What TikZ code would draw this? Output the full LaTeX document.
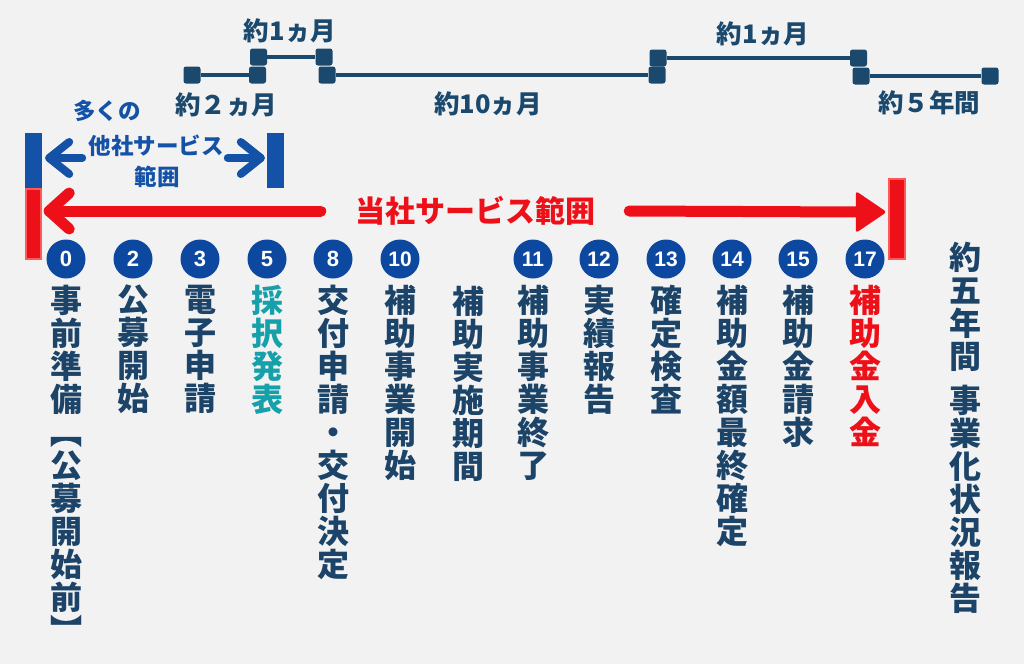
\documentclass[tikz,border=0pt]{standalone}
\usepackage{fontspec}
\newfontfamily\jp{Noto Sans CJK JP}
\newfontfamily\numfont{Liberation Sans}
\usetikzlibrary{calc}
\definecolor{bg}{RGB}{242,242,242}
\definecolor{navy}{RGB}{28,67,104}
\definecolor{tline}{RGB}{27,73,110}
\definecolor{cblue}{RGB}{13,72,160}
\definecolor{sblue}{RGB}{20,82,168}
\definecolor{tealc}{RGB}{22,160,170}
\definecolor{sred}{RGB}{238,16,24}
\definecolor{lred}{RGB}{255,90,90}
\begin{document}
\begin{tikzpicture}[x=1pt,y=-1pt,
  sq/.style={rectangle, rounded corners=2.5pt, fill=tline, minimum width=17pt, minimum height=17pt, inner sep=0},
  tl/.style={draw=tline, line width=4pt},
  dur/.style={font=\jp\bfseries\fontsize{25.5}{27}\selectfont, text=tline, inner sep=0},
  num/.style={circle, fill=cblue, minimum size=39pt, inner sep=0, text=white, font=\numfont\bfseries\fontsize{22}{22}\selectfont},
  numw/.style={num, font=\numfont\bfseries\fontsize{21}{21}\selectfont},
  vcol/.style={anchor=north, inner sep=0, align=center, text=navy, font=\jp\bfseries\fontsize{32}{33}\selectfont},
  btxt/.style={inner sep=0, text=sblue, font=\jp\bfseries\fontsize{22.5}{22.5}\selectfont},
  bbar/.style={rectangle, fill=sblue, minimum width=17pt, minimum height=55pt, inner sep=0},
  rbar/.style={rectangle, fill=sred, draw=lred, line width=2.5pt, minimum width=15pt, inner sep=0},
  barrow/.style={draw=sblue, line width=8pt, line cap=round, line join=round},
  rline/.style={draw=sred, line width=11pt, line cap=round, line join=round}
]
\fill[bg] (0,0) rectangle (1024,664);
\useasboundingbox (0,0) rectangle (1024,664);

% top timeline
\node[sq] (s1) at (192,75) {};
\node[sq] (s2u) at (258.5,57) {};
\node[sq] (s2d) at (257.5,75) {};
\node[sq] (s3u) at (324,57) {};
\node[sq] (s3d) at (327,75) {};
\node[sq] (s4u) at (658,58) {};
\node[sq] (s4d) at (657,75) {};
\node[sq] (s5u) at (858.5,58) {};
\node[sq] (s5d) at (861,76) {};
\node[sq] (s6) at (990,76) {};
\draw[tl] (s1) -- (s2d);
\draw[tl] (s2u) -- (s3u);
\draw[tl] (s3d) -- (s4d);
\draw[tl] (s4u) -- (s5u);
\draw[tl] (s5d) -- (s6);

\node[dur] (d1) at (290,31) {約1ヵ月};
\node[dur] (d2) at (226,105) {約２ヵ月};
\node[dur] (d3) at (488,104) {約10ヵ月};
\node[dur] (d4) at (763,34) {約1ヵ月};
\node[dur] (d5) at (929,103) {約５年間};

% other services range
\node[bbar] (bbL) at (33.5,160.5) {};
\node[bbar] (bbR) at (275.5,160.5) {};
\node[btxt] (bt1) at (107,111) {多くの};
\node[btxt] (bt2) at (156,146) {他社サービス};
\node[btxt] (bt3) at (157,177) {範囲};
\coordinate (btL) at ($(bbL.east)+(7,-2.5)$);
\coordinate (btR) at ($(bbR.west)+(-6,-2.5)$);
\draw[barrow] (btL) -- ++(33,0);
\draw[barrow] (btL) ++(20,-16) -- (btL) -- ++(20,16);
\draw[barrow] (btR) -- ++(-33,0);
\draw[barrow] (btR) ++(-20,-16) -- (btR) -- ++(-20,16);

% our service range
\node[rbar, minimum height=70pt] (rbL) at (33.5,224) {};
\node[rbar, minimum width=16pt, minimum height=80pt] (rbR) at (897,219) {};
\node[inner xsep=34pt, inner ysep=0, text=sred, font=\jp\bfseries\fontsize{30}{30}\selectfont] (svc) at (475,211) {当社サービス範囲};
\coordinate (rtipL) at ($(rbL.east)+(7,-13)$);
\coordinate (rtipR) at ($(rbR.west)+(-1,-7)$);
\draw[rline] (svc.west) -- (rtipL);
\draw[rline] (rtipL) ++(20,-18) -- (rtipL) -- ++(20,18);
\draw[rline] (svc.east) -- ($(rtipR)+(-28,0)$);
\fill[sred, rounded corners=3pt] (rtipR) -- ++(-31,-21) -- ++(0,42) -- cycle;

% numbered circles
\node[num] (c0) at (66,259) {0};
\node[num] (c2) at (133,259) {2};
\node[num] (c3) at (200,259) {3};
\node[num] (c5) at (267,259) {5};
\node[num] (c8) at (333,259) {8};
\node[numw] (c10) at (400,259) {10};
\node[numw] (c11) at (533,259) {11};
\node[numw] (c12) at (599,259) {12};
\node[numw] (c13) at (666,259) {13};
\node[numw] (c14) at (732,259) {14};
\node[numw] (c15) at (798,259) {15};
\node[numw] (c17) at (865,259) {17};

% vertical texts
\node[vcol] (t0) at (66,285) {事\\前\\準\\備\\︻\\公\\募\\開\\始\\前\\︼};
\node[vcol] (t2) at (133,285) {公\\募\\開\\始};
\node[vcol] (t3) at (200,285) {電\\子\\申\\請};
\node[vcol, text=tealc] (t5) at (267,285) {採\\択\\発\\表};
\node[vcol] (t8) at (333,285) {交\\付\\申\\請\\・\\交\\付\\決\\定};
\node[vcol] (t10) at (400,285) {補\\助\\事\\業\\開\\始};
\node[vcol] (tp) at (468,286) {補\\助\\実\\施\\期\\間};
\node[vcol] (t11) at (533,285) {補\\助\\事\\業\\終\\了};
\node[vcol] (t12) at (599,285) {実\\績\\報\\告};
\node[vcol] (t13) at (666,285) {確\\定\\検\\査};
\node[vcol] (t14) at (732,285) {補\\助\\金\\額\\最\\終\\確\\定};
\node[vcol] (t15) at (798,285) {補\\助\\金\\請\\求};
\node[vcol, text=sred] (t17) at (865,285) {補\\助\\金\\入\\金};
\node[vcol] (r1) at (965,242) {約\\五\\年\\間};
\node[vcol] (r2) at (965,385) {事\\業\\化\\状\\況\\報\\告};
\end{tikzpicture}
\end{document}
